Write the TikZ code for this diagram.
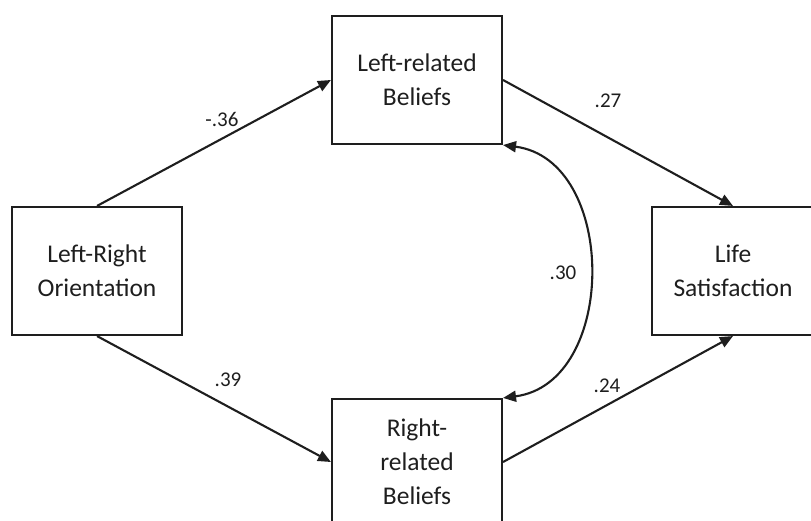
\documentclass[tikz,border=0pt]{standalone}
\usepackage{fontspec}
\setmainfont{Carlito}
\usetikzlibrary{arrows.meta}
\definecolor{ink}{HTML}{1E1E1E}
\tikzset{
  box/.style={draw=ink, line width=2.1pt, rectangle, align=center, text=ink,
    font=\fontsize{25.5}{34}\selectfont, inner sep=0pt},
  conn/.style={draw=ink, line width=2.1pt, -{Triangle[length=13pt,width=11pt]}},
  coef/.style={text=ink, font=\fontsize{21}{24}\selectfont, inner sep=0pt}
}
\begin{document}
\begin{tikzpicture}[x=1pt,y=-1pt]
\useasboundingbox (0,0) rectangle (811,521);
\node[box, minimum width=170pt, minimum height=128pt] (lr) at (97,271) {Left-Right\\Orientation};
\node[box, minimum width=170pt, minimum height=128pt] (lrb) at (417,80) {Left-related\\Beliefs};
\node[box, minimum width=170pt, minimum height=126pt] (rrb) at (417,462) {Right-\\related\\Beliefs};
\node[box, minimum width=162pt, minimum height=128pt] (ls) at (733,271) {Life\\Satisfaction};
\draw[conn] (lr.north) -- (lrb.west);
\draw[conn] (lrb.east) -- (ls.north);
\draw[conn] (lr.south) -- (rrb.west);
\draw[conn] (rrb.east) -- (ls.south);
\draw[draw=ink, line width=2.1pt, {Triangle[length=13pt,width=11pt]}-{Triangle[length=13pt,width=11pt]}]
  (lrb.south east) .. controls (618,160) and (618,383) .. (rrb.north east);
\node[coef] (c1) at (222,119) {-.36};
\node[coef] (c2) at (608,101) {.27};
\node[coef] (c3) at (563,273) {.30};
\node[coef] (c4) at (228,380) {.39};
\node[coef] (c5) at (607,386) {.24};
\end{tikzpicture}
\end{document}
